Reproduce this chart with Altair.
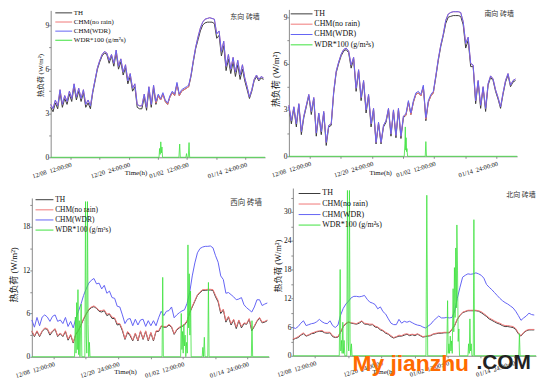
import altair as alt
import pandas as pd

HOURS = list(range(0, 1093, 12))
SERIES = ["TH", "CHM(no rain)", "CHM(WDR)", "WDR*100 (g/m²s)"]
COLORS = ["#3a3a3a", "#f07878", "#6464f4", "#3ee23e"]
WIDTHS = [1, 1, 1, 0.8]
FONT = "Liberation Serif, Noto Sans CJK SC, serif"
AX = "#8a8a8a"

X_TICKS = [100, 250, 400, 550, 700, 850, 1000]
X_LABELS = ["12/08\u00a0\u00a012:00:00", "", "12/20\u00a0\u00a024:00:00", "",
            "01/02\u00a0\u00a012:00:00", "", "01/14\u00a0\u00a024:00:00"]
PANEL_NAMES = ["东向 砖墙", "南向 砖墙", "西向 砖墙", "北向 砖墙"]
Y_TITLE = "热负荷 (W/m²)"
X_TITLE = "Time(h)"

# ---------------- panel 1 (east) ----------------
P1_TH = [
    3.4, 3.1, 3.7, 3.3, 4.4, 3.4, 4.0, 3.6, 4.3, 3.8, 4.8, 3.9,
    4.5, 3.8, 4.4, 3.4, 3.7, 3.3, 4.4, 5.2, 6.0, 6.5, 6.9, 7.1,
    7.0, 6.4, 6.9, 6.2, 7.1, 6.0, 6.5, 5.6, 6.1, 5.0, 5.5, 4.5,
    4.8, 3.4, 3.3, 3.3, 4.1, 3.2, 4.6, 3.4, 4.7, 3.6, 4.2, 3.9,
    4.3, 3.8, 3.6, 4.1, 4.4, 4.2, 5.0, 4.2, 4.5, 4.6, 4.7, 4.8,
    5.5, 6.5, 7.4, 8.0, 8.6, 9.0, 9.15, 9.2, 9.2, 9.2, 9.1, 8.1,
    8.3, 6.9, 7.6, 5.9, 6.7, 5.7, 6.5, 5.5, 6.3, 5.3, 6.0, 5.2,
    4.6, 4.0, 4.5, 5.2, 5.5, 5.2, 5.4, 5.3,
]
P1_NR = [
    3.6, 3.3, 3.9, 3.5, 4.6, 3.6, 4.2, 3.8, 4.5, 4.0, 5.0, 4.1,
    4.7, 4.0, 4.6, 3.6, 3.9, 3.5, 4.5, 5.3, 6.1, 6.6, 7.0, 7.2,
    7.1, 6.6, 7.0, 6.4, 7.3, 6.2, 6.7, 5.8, 6.3, 5.2, 5.7, 4.7,
    5.0, 3.6, 3.5, 3.5, 4.3, 3.4, 4.8, 3.6, 4.9, 3.7, 4.2, 3.9,
    4.3, 3.8, 3.6, 4.1, 4.4, 4.2, 5.0, 4.2, 4.5, 4.6, 4.7, 4.8,
    5.6, 6.6, 7.5, 8.2, 8.8, 9.2, 9.4, 9.45, 9.5, 9.45, 9.4, 8.4,
    8.6, 7.2, 7.9, 6.2, 7.0, 6.0, 6.8, 5.8, 6.6, 5.6, 6.3, 5.4,
    4.8, 4.1, 4.6, 5.3, 5.6, 5.3, 5.5, 5.4,
]
P1_WDR = [
    3.6, 3.3, 3.9, 3.5, 4.6, 3.6, 4.2, 3.8, 4.5, 4.0, 5.0, 4.1,
    4.7, 4.0, 4.6, 3.6, 3.9, 3.5, 4.5, 5.3, 6.1, 6.6, 7.0, 7.2,
    7.1, 6.6, 7.0, 6.4, 7.3, 6.2, 6.7, 5.8, 6.3, 5.2, 5.7, 4.7,
    5.0, 3.6, 3.5, 3.5, 4.3, 3.4, 4.8, 3.6, 4.9, 3.8, 4.3, 4.0,
    4.4, 3.9, 3.7, 4.2, 4.5, 4.3, 5.1, 4.3, 4.6, 4.7, 4.8, 4.9,
    5.6, 6.6, 7.5, 8.2, 8.8, 9.2, 9.4, 9.45, 9.5, 9.45, 9.4, 8.4,
    8.6, 7.2, 7.9, 6.2, 7.0, 6.0, 6.8, 5.8, 6.6, 5.6, 6.3, 5.4,
    4.8, 4.1, 4.6, 5.3, 5.6, 5.3, 5.5, 5.4,
]
P1_RAIN_H = [0, 556, 559, 562, 565, 568, 571, 574, 658, 662, 665, 694, 697, 700, 706, 710, 713, 1100]
P1_RAIN_V = [0, 0, 0.6, 0.2, 1.05, 0.3, 0.7, 0, 0, 0.9, 0, 0, 0.25, 0, 0, 1.0, 0, 0]

# ---------------- panel 2 (south) ----------------
P2_TH = [
    3.2, 2.1, 3.1, 1.9, 3.3, 1.4, 2.5, 3.2, 3.9, 2.7, 3.7, 1.3,
    2.7, 1.4, 2.8, 0.7, 1.9, 2.0, 4.1, 5.4, 6.0, 6.5, 6.8, 6.9,
    6.7, 5.7, 6.3, 4.2, 5.5, 3.6, 4.8, 2.8, 3.9, 1.9, 3.0, 0.8,
    2.1, 0.8, 1.9, 2.2, 3.0, 1.3, 2.9, 1.2, 3.0, 1.15, 2.5, 2.65,
    3.5, 2.7, 3.5, 4.0, 4.1, 3.9, 4.5, 2.3, 3.5, 3.9, 4.1, 5.1,
    6.2, 7.1, 7.8, 8.6, 9.0, 9.05, 9.1, 9.1, 9.1, 9.05, 8.5, 7.0,
    7.5, 5.8, 5.8, 3.4, 4.8, 3.1, 4.4, 2.9, 4.6, 5.1, 4.9, 4.2,
    3.7, 3.1, 4.0, 4.8, 5.25, 4.5, 4.8, 4.9,
]
P2_NR = [
    3.3, 2.3, 3.2, 2.1, 3.4, 1.6, 2.6, 3.3, 4.0, 2.9, 3.8, 1.5,
    2.8, 1.6, 2.9, 0.9, 2.0, 2.1, 4.2, 5.5, 6.1, 6.6, 6.9, 7.0,
    6.8, 5.9, 6.4, 4.4, 5.6, 3.8, 4.9, 3.0, 4.0, 2.1, 3.1, 0.9,
    2.2, 0.9, 2.0, 2.3, 3.1, 1.45, 3.0, 1.35, 3.1, 1.3, 2.6, 2.65,
    3.5, 2.7, 3.5, 4.0, 4.1, 3.9, 4.5, 2.4, 3.5, 3.9, 4.1, 5.2,
    6.3, 7.2, 7.9, 8.8, 9.2, 9.3, 9.35, 9.35, 9.35, 9.3, 8.7, 7.3,
    7.7, 6.0, 5.9, 3.6, 4.9, 3.3, 4.5, 3.1, 4.7, 5.2, 5.0, 4.3,
    3.8, 3.2, 4.1, 4.9, 5.35, 4.6, 4.9, 5.0,
]
P2_WDR = [
    3.3, 2.3, 3.2, 2.1, 3.4, 1.6, 2.6, 3.3, 4.0, 2.9, 3.8, 1.5,
    2.8, 1.6, 2.9, 0.9, 2.0, 2.1, 4.2, 5.5, 6.1, 6.6, 6.9, 7.0,
    6.8, 5.9, 6.4, 4.4, 5.6, 3.8, 4.9, 3.0, 4.0, 2.1, 3.1, 0.9,
    2.2, 0.9, 2.0, 2.3, 3.1, 1.45, 3.0, 1.35, 3.1, 1.3, 2.6, 2.75,
    3.6, 2.8, 3.6, 4.1, 4.2, 4.0, 4.6, 2.5, 3.6, 4.0, 4.2, 5.2,
    6.3, 7.2, 7.9, 8.8, 9.2, 9.3, 9.35, 9.35, 9.35, 9.3, 8.7, 7.3,
    7.7, 6.0, 5.9, 3.6, 4.9, 3.3, 4.5, 3.1, 4.7, 5.2, 5.0, 4.3,
    3.8, 3.2, 4.1, 4.9, 5.35, 4.6, 4.9, 5.0,
]
P2_RAIN_H = [0, 556, 559, 561, 563, 565, 567, 569, 572, 657, 660, 663, 1100]
P2_RAIN_V = [0, 0, 0.8, 1.9, 0.4, 1.2, 0.3, 0.5, 0, 0, 0.95, 0, 0]

# ---------------- panel 3 (west) ----------------
P3_TH = [
    3.5, 2.8, 3.5, 2.8, 3.5, 3.9, 3.8, 3.0, 3.5, 3.8, 2.8, 3.2,
    2.8, 3.5, 2.3, 3.0, 1.9, 3.1, 3.6, 4.4, 5.2, 5.9, 6.5, 6.8,
    6.95, 6.7, 6.3, 6.2, 6.4, 5.7, 5.9, 5.3, 5.3, 4.4, 4.5, 3.6,
    2.4, 3.4, 2.9, 2.2, 3.2, 2.2, 3.5, 2.4, 3.5, 2.2, 3.3, 2.2,
    3.5, 3.5, 4.2, 4.1, 4.1, 4.4, 4.1, 3.1, 3.7, 4.0, 4.2, 4.4,
    4.9, 6.1, 6.9, 7.7, 8.5, 8.9, 9.2, 9.2, 9.25, 9.25, 9.2, 8.3,
    7.6, 6.0, 6.5, 4.8, 5.5, 4.4, 5.1, 3.9, 5.0, 4.0, 4.6, 4.5,
    5.2, 3.6, 4.2, 4.9, 5.35, 4.7, 4.8, 5.0,
]
P3_NR = [
    3.6, 2.9, 3.6, 2.9, 3.6, 4.0, 3.9, 3.2, 3.6, 3.9, 2.9, 3.3,
    2.9, 3.6, 2.45, 3.1, 2.0, 3.2, 3.7, 4.5, 5.3, 6.0, 6.6, 6.9,
    7.05, 6.8, 6.4, 6.4, 6.5, 5.9, 6.0, 5.5, 5.4, 4.6, 4.6, 3.8,
    2.5, 3.5, 3.1, 2.3, 3.3, 2.3, 3.6, 2.5, 3.6, 2.3, 3.4, 2.3,
    3.6, 3.6, 4.3, 4.2, 4.2, 4.5, 4.2, 3.2, 3.8, 4.1, 4.3, 4.5,
    5.0, 6.2, 7.0, 7.8, 8.6, 9.0, 9.3, 9.3, 9.35, 9.35, 9.3, 8.5,
    7.8, 6.2, 6.6, 5.0, 5.6, 4.6, 5.2, 4.1, 5.1, 4.2, 4.7, 4.6,
    5.3, 3.8, 4.3, 5.0, 5.45, 4.8, 4.9, 5.1,
]
P3_WDR = [
    5.1, 4.1, 5.45, 4.3, 5.5, 5.8, 5.5, 4.9, 5.6, 5.8, 4.9, 5.1,
    4.6, 5.45, 4.2, 4.9, 4.0, 5.3, 6.3, 7.3, 8.5, 9.4, 10.2, 10.6,
    10.85, 10.1, 10.2, 9.4, 9.9, 8.8, 9.1, 8.2, 8.1, 7.0, 6.9, 5.8,
    4.6, 5.2, 5.3, 4.3, 5.2, 4.4, 5.1, 5.2, 4.2, 5.0, 4.3, 5.0,
    4.3, 5.4, 6.3, 5.7, 6.3, 6.4, 6.9, 5.4, 5.8, 6.1, 6.35, 6.5,
    7.4, 8.9, 11.2, 13.0, 14.4, 15.0, 15.2, 15.3, 15.3, 15.35, 15.1, 14.0,
    13.1, 11.2, 10.7, 8.8, 8.9, 8.6, 8.3, 7.9, 8.0, 8.2, 7.2, 6.8,
    6.5, 6.2, 6.9, 7.9, 7.9, 7.1, 7.3, 7.45,
]
P3_RAIN_H = [0, 198, 202, 205, 208, 211, 214, 217, 220, 223,
             229, 232, 246, 249, 252, 255, 258, 261, 264, 267,
             270, 604, 607, 610, 690, 693, 696, 699, 702, 705,
             708, 711, 714, 718, 721, 724, 727, 730, 733, 736,
             739, 790, 793, 796, 800, 803, 816, 819, 822, 1018,
             1021, 1024, 1100]
P3_RAIN_V = [0, 0, 5.5, 0.5, 7.5, 1, 9.3, 0.3, 5.0, 0,
             7.3, 0, 0, 21.5, 3, 0.5, 21.5, 4.5, 0, 2.0,
             0, 0, 11.0, 0, 0, 6.0, 1, 3.5, 0.5, 4.5,
             1.5, 3.0, 0, 2, 0.5, 15.5, 4, 11.5, 3, 9.1,
             0, 0, 1.3, 0, 2.7, 0, 0, 10.3, 0, 0,
             5.0, 0, 0]

# ---------------- panel 4 (north) ----------------
P4_TH = [
    3.4, 3.6, 3.8, 4.3, 4.6, 4.1, 4.3, 4.6, 4.7, 5.0, 5.1, 5.1,
    4.8, 4.7, 4.8, 4.0, 3.8, 3.9, 4.9, 6.1, 6.7, 7.0, 6.8, 6.7,
    6.6, 6.8, 7.2, 6.6, 6.6, 6.4, 6.5, 6.0, 5.9, 5.4, 5.2, 4.7,
    4.5, 4.0, 3.7, 3.9, 4.1, 4.1, 4.3, 4.5, 4.2, 4.4, 4.2, 4.5,
    4.2, 3.9, 4.0, 4.1, 4.2, 4.5, 4.6, 4.7, 4.7, 4.8, 4.8, 4.8,
    5.5, 6.3, 7.6, 8.4, 9.0, 9.2, 9.4, 9.4, 9.4, 9.4, 9.3, 9.0,
    8.6, 8.2, 7.7, 7.4, 7.1, 6.8, 6.6, 6.3, 6.1, 6.1, 6.0, 5.9,
    5.5, 4.6, 4.1, 4.8, 5.2, 5.4, 5.4, 5.4,
]
P4_NR = [
    3.5, 3.7, 4.0, 4.4, 4.8, 4.2, 4.4, 4.7, 4.9, 5.1, 5.2, 5.3,
    4.9, 4.9, 4.9, 4.2, 3.9, 4.0, 5.0, 6.2, 6.8, 7.1, 6.9, 6.8,
    6.7, 7.0, 7.3, 6.8, 6.7, 6.6, 6.6, 6.2, 6.0, 5.6, 5.3, 4.9,
    4.6, 4.2, 3.8, 4.0, 4.3, 4.2, 4.5, 4.6, 4.4, 4.5, 4.4, 4.6,
    4.3, 4.0, 4.1, 4.2, 4.3, 4.6, 4.7, 4.8, 4.8, 4.9, 4.9, 4.9,
    5.6, 6.4, 7.7, 8.5, 9.1, 9.3, 9.5, 9.5, 9.5, 9.5, 9.4, 9.2,
    8.8, 8.4, 7.9, 7.6, 7.3, 7.0, 6.8, 6.5, 6.3, 6.3, 6.2, 6.1,
    5.7, 4.8, 4.2, 4.9, 5.3, 5.5, 5.5, 5.5,
]
P4_WDR = [
    5.9, 5.7, 6.1, 6.8, 7.3, 6.3, 6.5, 6.7, 6.8, 7.1, 7.6, 7.1,
    6.8, 6.7, 7.3, 6.3, 5.9, 6.4, 8.5, 9.9, 10.8, 11.4, 12.1, 12.4,
    12.4, 12.3, 12.4, 12.6, 11.8, 11.2, 11.0, 10.7, 9.8, 10.2, 9.2, 8.7,
    7.7, 6.8, 6.5, 6.5, 7.6, 6.8, 7.2, 7.0, 7.2, 6.9, 6.6, 6.4,
    6.3, 6.0, 5.8, 6.2, 6.6, 7.3, 7.8, 8.3, 7.9, 7.9, 8.0, 7.9,
    8.0, 9.3, 12.0, 14.3, 16.4, 16.8, 17.1, 17.0, 17.1, 17.3, 17.1, 16.8,
    16.2, 14.9, 14.3, 13.8, 13.2, 12.6, 12.0, 11.5, 11.1, 10.8, 10.4, 10.0,
    9.3, 8.4, 7.4, 7.9, 8.3, 8.9, 8.6, 8.5,
]
P4_RAIN_H = [0, 210, 214, 217, 220, 223, 226, 229, 232, 235,
             244, 247, 250, 253, 256, 259, 262, 265, 268, 602,
             606, 610, 696, 700, 703, 706, 709, 712, 715, 718,
             721, 725, 728, 731, 734, 737, 740, 742, 745, 748,
             751, 754, 792, 795, 798, 801, 804, 807, 810, 816,
             819, 822, 1022, 1025, 1028, 1100]
P4_RAIN_V = [0, 0, 18.0, 1.0, 3.2, 0.5, 7.0, 0.5, 3.2, 0,
             0, 34.5, 3, 1, 34.5, 2.5, 0, 2.5, 0, 0,
             33.5, 0, 0, 11.5, 0.5, 2.5, 0.5, 4.1, 1.0, 3.1,
             0.5, 14.0, 5, 18.4, 8, 22.5, 10, 27.3, 17.7, 3,
             5.6, 0, 0, 2.5, 0.5, 7.7, 1, 2.5, 0, 0,
             28.4, 0, 0, 4.6, 0, 0]


def x_expr():
    parts = []
    for v, lab in zip(X_TICKS, X_LABELS):
        if lab:
            parts.append(f"datum.value == {v} ? '{lab}' : ")
    return "".join(parts) + "''"


def make_panel(th, nr, wdr, rh, rv, name, c):
    recs = []
    for s, vals in ((SERIES[0], th), (SERIES[1], nr), (SERIES[2], wdr)):
        for h, v in zip(HOURS, vals):
            recs.append({"h": h, "v": v, "s": s})
    for h, v in zip(rh, rv):
        recs.append({"h": h, "v": v, "s": SERIES[3]})
    df = pd.DataFrame(recs)

    xs = alt.Scale(domain=[0, 1100], range=[c["xo"], c["W"]], nice=False, zero=False)
    ys = alt.Scale(domain=[0, c["ymax"]], range=[c["H"], c["yo"]], nice=False, zero=False)
    lab_vals = ",".join(str(v) for v in c["ylab"])
    xaxis = alt.Axis(values=X_TICKS, labelExpr=x_expr(), labelAngle=-17, labelAlign="right",
                     labelBaseline="top", labelFontSize=6.5, labelPadding=2, tickSize=2,
                     title=X_TITLE, titleX=c["tx"], titleY=c["ty"], titleFontSize=7,
                     titleFontWeight="normal", titleBaseline="middle", titleAlign="center",
                     grid=False, domainColor=AX, tickColor=AX, labelColor="#111",
                     titleColor="#111", labelFont=FONT, titleFont=FONT,
                     labelOverlap=False, labelFlush=False, labelBound=False)
    yaxis = alt.Axis(values=c["yt"], labelExpr=f"indexof([{lab_vals}], datum.value) >= 0 ? datum.label : ''",
                     offset=-c["xo"], labelFontSize=7.5, labelPadding=0, tickSize=2,
                     title=Y_TITLE, titleX=c["ytx"], titleY=c["yty"], titleAngle=270,
                     titleFontSize=c["yts"], titleFontWeight="normal", titleBaseline="middle",
                     titleAlign="center", grid=False, domainColor=AX, tickColor=AX,
                     labelColor="#111", titleColor="#111", labelFont=FONT, titleFont=FONT,
                     labelOverlap=False, labelFlush=False, labelBound=False)
    d = c["d"]
    legend = alt.Legend(orient="none", legendX=c["lx"], legendY=c["ly"], title=None,
                        symbolType="M-1,0H5", symbolSize=d * d, symbolStrokeWidth=1,
                        labelOffset=2 * d + 1, labelFont=FONT, labelFontSize=c["lf"],
                        labelColor="#111", rowPadding=c["lp"], padding=0, labelLimit=300)
    color = alt.Color("s:N", scale=alt.Scale(domain=SERIES, range=COLORS), legend=legend)

    base = alt.Chart(df)
    layers = []
    for s, w in zip(SERIES, WIDTHS):
        layers.append(
            base.transform_filter(alt.datum.s == s)
            .mark_line(strokeWidth=w)
            .encode(x=alt.X("h:Q", scale=xs, axis=xaxis),
                    y=alt.Y("v:Q", scale=ys, axis=yaxis),
                    color=color)
        )
    note = alt.Chart(pd.DataFrame({"t": [name]})).mark_text(
        align="left", baseline="middle", fontSize=c["nf"], font=FONT, color="#333"
    ).encode(x=alt.value(c["nx"]), y=alt.value(c["ny"]), text="t:N")
    layers.append(note)
    for t, tx, ty, sz, col in c.get("marks", []):
        layers.append(
            alt.Chart(pd.DataFrame({"t": [t]})).mark_text(
                align="left", baseline="alphabetic", fontSize=sz, font="Liberation Sans, Arial",
                fontWeight="bold", color=col
            ).encode(x=alt.value(tx), y=alt.value(ty), text="t:N")
        )
    return alt.layer(*layers).properties(width=c["W"], height=c["H"])


C1 = dict(W=259, H=149, xo=43, yo=1, ymax=10, yt=[0, 1.5, 3, 4.5, 6, 7.5, 9], ylab=[0, 3, 6, 9],
          tx=128.5, ty=15, ytx=-10, yty=66, yts=7, d=5.67, lx=47, ly=0, lf=7, lp=1.2,
          nx=224, ny=8, nf=7)
C2 = dict(W=252, H=148, xo=22, yo=0, ymax=9.5, yt=[0, 1.5, 3, 4.5, 6, 7.5, 9], ylab=[0, 3, 6, 9],
          tx=114, ty=16, ytx=-13, yty=70, yts=9, d=7.33, lx=23, ly=0, lf=8, lp=1.4,
          nx=219, ny=5, nf=7)
C3 = dict(W=263, H=170, xo=24, yo=10, ymax=22, yt=list(range(0, 22, 3)), ylab=[0, 6, 12, 18],
          tx=118, ty=15, ytx=-18, yty=87, yts=9, d=6, lx=27, ly=8, lf=7.5, lp=1.2,
          nx=224, ny=15, nf=7.5)
C4 = dict(W=267, H=169, xo=22, yo=0, ymax=35, yt=list(range(0, 34, 3)), ylab=[0, 6, 12, 18, 24, 30],
          tx=113, ty=16, ytx=-15, yty=78, yts=8.5, d=7.33, lx=27, ly=1, lf=8, lp=1.6,
          nx=237, ny=7, nf=7,
          marks=[("My jianzhu", 82, 184, 23, "#ff6a00"), (".COM", 207, 182, 21, "#222222")])

p1 = make_panel(P1_TH, P1_NR, P1_WDR, P1_RAIN_H, P1_RAIN_V, PANEL_NAMES[0], C1)
p2 = make_panel(P2_TH, P2_NR, P2_WDR, P2_RAIN_H, P2_RAIN_V, PANEL_NAMES[1], C2)
p3 = make_panel(P3_TH, P3_NR, P3_WDR, P3_RAIN_H, P3_RAIN_V, PANEL_NAMES[2], C3)
p4 = make_panel(P4_TH, P4_NR, P4_WDR, P4_RAIN_H, P4_RAIN_V, PANEL_NAMES[3], C4)

row1 = alt.hconcat(p1, p2, spacing=0).resolve_scale(color="independent").resolve_legend(color="independent")
row2 = alt.hconcat(p3, p4, spacing=0).resolve_scale(color="independent").resolve_legend(color="independent")
chart = (
    alt.vconcat(row1, row2, spacing=8)
    .resolve_scale(color="independent")
    .resolve_legend(color="independent")
    .properties(padding=0, background="white")
    .configure_view(stroke=None)
)

chart.save("out.html", embed_options={"renderer": "svg", "actions": False})
